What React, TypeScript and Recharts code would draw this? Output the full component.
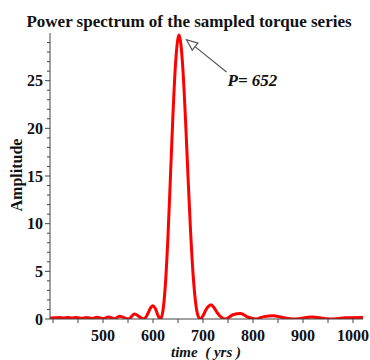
import React from 'react';
import { LineChart, Line, XAxis, YAxis, ReferenceLine } from 'recharts';

// period (yrs) and spectral amplitude
const PERIODS = [
    394, 405, 413, 421, 429, 438, 447, 457, 467, 478, 488, 500, 511, 524, 533, 551, 563, 581,
    585, 590, 595, 599, 605, 610, 615, 620, 625, 630, 635, 640, 645, 650, 652, 655, 660, 665,
    670, 675, 680, 685, 690, 695, 700, 705, 710, 716, 722, 728, 735, 745, 760, 775, 790, 805,
    822, 840, 860, 884, 917, 954, 985, 1020,
];
const AMPLITUDE = [
    0.1, 0.12, 0.15, 0.1, 0.15, 0.1, 0.16, 0.08, 0.15, 0.05, 0.18, 0.05, 0.2, 0.03, 0.3, 0.0, 0.52, 0.0,
    0.13, 0.6, 1.16, 1.4, 1.06, 0.36, 0.0, 0.91, 3.79, 8.72, 15.07, 21.54, 26.73, 29.45, 29.8, 29.15, 26.04, 20.92,
    14.99, 9.33, 4.81, 1.82, 0.34, 0.0, 0.34, 0.88, 1.28, 1.5, 1.2, 0.7, 0.25, 0.0, 0.45, 0.58, 0.2, 0.0,
    0.25, 0.35, 0.15, 0.0, 0.22, 0.0, 0.12, 0.15,
];
const X_TICKS = [400, 450, 500, 550, 600, 650, 700, 750, 800, 850, 900, 950, 1000];
const X_LABELS = [500, 600, 700, 800, 900, 1000];
const Y_TICKS = Array.from({ length: 30 }, (_, i) => i);
const PEAK_PERIOD = 652;

const data = PERIODS.map((p, i) => ({ p, a: AMPLITUDE[i] }));

const AXIS = '#444';
const SERIF = '"Liberation Serif", "DejaVu Serif", serif';
const tickText = { fontFamily: SERIF, fontSize: 16, fontWeight: 700 };

const XTick = ({ x, y, payload }: any) => {
    const v = payload.value;
    return (
        <g>
            <line x1={x} y1={y} x2={x} y2={y + 4} stroke={AXIS} />
            {X_LABELS.includes(v) && (
                <text x={x} y={y + 22} textAnchor="middle" fill="#111" style={tickText}>
                    {v}
                </text>
            )}
        </g>
    );
};

const YTick = ({ x, y, payload }: any) => {
    const v = payload.value;
    const major = v % 5 === 0;
    return (
        <g>
            <line x1={x} y1={y} x2={x - (major ? 5 : 3)} y2={y} stroke={AXIS} />
            {major && (
                <text x={x - 7} y={y} dy="0.36em" textAnchor="end" fill="#111" style={tickText}>
                    {v}
                </text>
            )}
        </g>
    );
};

// arrow pointing at the main peak, with its label at the tail
const PeakArrow = ({ x1, y1, x2, y2 }: any) => {
    const len = Math.hypot(x2 - x1, y2 - y1);
    const ux = (x2 - x1) / len;
    const uy = (y2 - y1) / len;
    const bx = x1 + ux * 11;
    const by = y1 + uy * 11;
    const pts = `${x1},${y1} ${bx - uy * 4.5},${by + ux * 4.5} ${bx + uy * 4.5},${by - ux * 4.5}`;
    return (
        <g>
            <line x1={bx} y1={by} x2={x2} y2={y2} stroke="#555" strokeWidth={1.2} />
            <polygon points={pts} fill="#fff" stroke="#555" strokeWidth={1.2} />
            <text x={x2 + 1} y={y2 + 14} fill="#111" style={{ fontFamily: SERIF, fontSize: 17, fontWeight: 700, fontStyle: 'italic' }}>
                P= {PEAK_PERIOD}
            </text>
        </g>
    );
};

export default function App() {
    return (
        <div style={{ position: 'absolute', left: 0, top: 0, width: 370, height: 360, background: '#fff', fontFamily: SERIF }}>
            <div style={{ position: 'absolute', left: 0, width: 378, top: 12, lineHeight: '20px', textAlign: 'center', fontSize: 17, fontWeight: 700, color: '#111' }}>
                Power spectrum of the sampled torque series
            </div>
            <div style={{ position: 'absolute', left: 17, top: 175, transform: 'translate(-50%, -50%) rotate(-90deg)', whiteSpace: 'nowrap', fontSize: 16, fontWeight: 700, color: '#111' }}>
                Amplitude
            </div>
            <div style={{ position: 'absolute', left: 206, top: 352, transform: 'translate(-50%, -50%)', whiteSpace: 'pre', fontSize: 15, fontWeight: 700, fontStyle: 'italic', color: '#111' }}>
                time  ( yrs )
            </div>
            <LineChart width={370} height={360} data={data} margin={{ top: 33, right: 7, bottom: 0, left: 0 }}>
                <XAxis
                    dataKey="p" type="number" domain={[394, 1020]} ticks={X_TICKS} allowDataOverflow interval={0}
                    height={41} stroke={AXIS} tickLine={false} tickSize={0} tickMargin={0} tick={<XTick />}
                />
                <YAxis
                    type="number" domain={[0, 30]} ticks={Y_TICKS} allowDataOverflow interval={0}
                    width={50} stroke={AXIS} tickLine={false} tickSize={0} tickMargin={0} tick={<YTick />}
                />
                <ReferenceLine
                    segment={[{ x: 667, y: 29.3 }, { x: 747, y: 25.9 }]}
                    ifOverflow="visible"
                    shape={(props: any) => <PeakArrow {...props} />}
                />
                <Line
                    dataKey="a" type="monotone" stroke="#ff0000" strokeWidth={3}
                    dot={false} activeDot={false} isAnimationActive={false}
                />
            </LineChart>
        </div>
    );
}
